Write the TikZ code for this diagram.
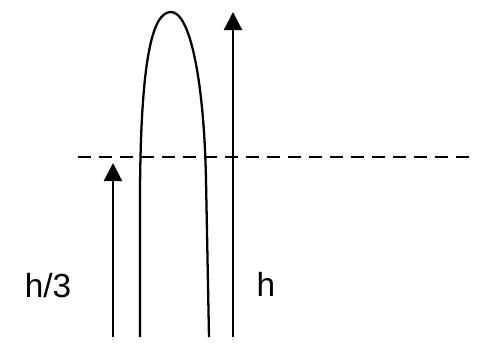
\documentclass[tikz,border=0pt]{standalone}
\usepackage{fontspec}
\setmainfont{Liberation Sans}
\usetikzlibrary{arrows.meta}

\begin{document}
\begin{tikzpicture}[x=0.02cm, y=-0.02cm, >={Triangle[length=0.36cm, width=0.36cm]}]
    \useasboundingbox (0,0) rectangle (500,346);
    \coordinate (lbot) at (113,337);
    \coordinate (ltop) at (113,163);
    \coordinate (rbot) at (233,337);
    \coordinate (rtop) at (233,12);
    \coordinate (dl) at (78,157);
    \coordinate (dr) at (476,157);
    \coordinate (up) at (140,337);
    \coordinate (peak) at (171,12);
    \coordinate (down) at (209,337);
    \node[font=\fontsize{19}{22}\selectfont] (third) at (48,286) {h/3};
    \node[font=\fontsize{19}{22}\selectfont] (full) at (266,284) {h};
    \draw[line width=1.3pt, dash pattern=on 0.26cm off 0.16cm] (dl) -- (dr);
    \draw[->, line width=1.3pt] (lbot) -- (ltop);
    \draw[->, line width=1.3pt] (rbot) -- (rtop);
    \draw[line width=1.3pt] (up) -- (140,190) .. controls (141,50) and (154,12) .. (peak)
        .. controls (190,12) and (204,80) .. (206,180) -- (down);
\end{tikzpicture}
\end{document}
